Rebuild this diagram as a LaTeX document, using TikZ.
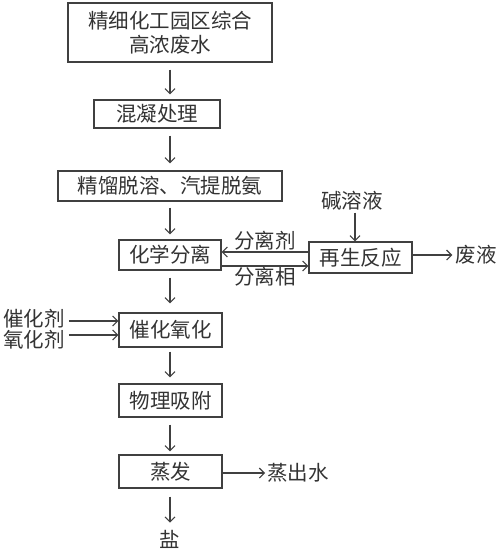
\documentclass[tikz,border=0pt]{standalone}
\usepackage{fontspec}
\setmainfont{Noto Sans CJK SC}
\usetikzlibrary{arrows.meta,calc}
\begin{document}
\begin{tikzpicture}[x=1pt,y=-1pt,
  every node/.style={font=\fontsize{20.5}{24}\selectfont, text=black!80, inner sep=1pt},
  box/.style={draw=black!75, line width=1.3pt, minimum height=#1, inner sep=0pt},
  box/.default=30,
  arr/.style={draw=black!75, line width=1.2pt, -{Straight Barb[length=5pt,width=10pt,line width=1.1pt]}},
  lab/.style={inner sep=1pt}]
\useasboundingbox (0,0) rectangle (500,549);
% boxes
\node[box=59, minimum width=204, align=center] (b1) at (170,32.5) {精细化工园区综合\\高浓废水};
\node[box=28, minimum width=126] (b2) at (157,114) {混凝处理};
\node[box=30, minimum width=224] (b3) at (170,186) {精馏脱溶、汽提脱氨};
\node[box=30, minimum width=102] (b4) at (170,255) {化学分离};
\node[box=31, minimum width=103] (b5) at (360.5,257.5) {再生反应};
\node[box=34, minimum width=103] (b6) at (170.5,330) {催化氧化};
\node[box=33, minimum width=103] (b7) at (170.5,400.5) {物理吸附};
\node[box=33, minimum width=103] (b8) at (170.5,471.5) {蒸发};
% labels
\node[lab] (jian) at (352,201) {碱溶液};
\node[lab] (fljl) at (265,241) {分离剂};
\node[lab] (flx) at (265,277) {分离相};
\node[lab] (fei) at (476,255) {废液};
\node[lab] (cat) at (34,319) {催化剂};
\node[lab] (oxi) at (34,340) {氧化剂};
\node[lab] (zc) at (298,473) {蒸出水};
\node[lab] (yan) at (170,539) {盐};
% helper coordinates
\coordinate (cx) at (170,0);
\coordinate (jx) at (355,0);
\coordinate (y1) at (0,252);
\coordinate (y2) at (0,266);
\coordinate (a1) at (0,321);
\coordinate (a2) at (0,335);
% main flow arrows
\draw[arr, shorten <=7pt, shorten >=5pt] (b1.south) -- (b1.south |- b2.north);
\draw[arr, shorten <=7pt, shorten >=7pt] (cx |- b2.south) -- (cx |- b3.north);
\draw[arr, shorten <=6pt, shorten >=5pt] (b3.south) -- (b3.south |- b4.north);
\draw[arr, shorten <=7pt, shorten >=9pt] (b4.south) -- (b4.south |- b6.north);
\draw[arr, shorten <=4pt, shorten >=6pt] (cx |- b6.south) -- (cx |- b7.north);
\draw[arr, shorten <=7pt, shorten >=3pt] (cx |- b7.south) -- (cx |- b8.north);
\draw[arr, shorten <=8pt, shorten >=6pt] (cx |- b8.south) -- (yan.north);
% side arrows
\draw[arr, shorten <=1pt] (jx |- jian.south) -- (jx |- b5.north);
\draw[arr] (b5.west |- y1) -- (b4.east |- y1);
\draw[arr] (b4.east |- y2) -- (b5.west |- y2);
\draw[arr, shorten >=2pt] (b5.east |- fei) -- (fei.west);
\draw[arr, shorten <=3pt] (cat.east |- a1) -- (b6.west |- a1);
\draw[arr, shorten <=3pt] (oxi.east |- a2) -- (b6.west |- a2);
\draw[arr, shorten >=1pt] (b8.east |- zc) -- (zc.west);
\end{tikzpicture}
\end{document}
